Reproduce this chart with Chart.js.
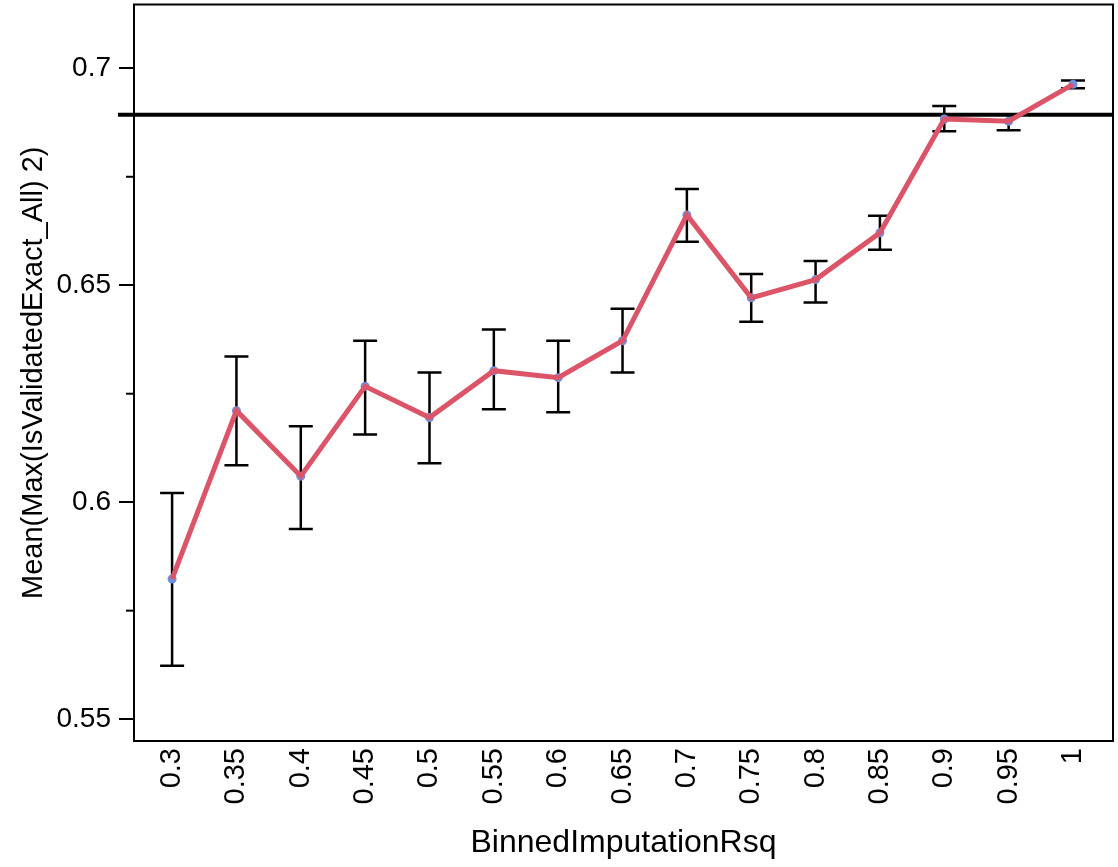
<!DOCTYPE html>
<html>
<head>
<meta charset="utf-8">
<script src="https://cdn.jsdelivr.net/npm/chart.js@4.4.1/dist/chart.umd.min.js"></script>
<style>
  html, body { margin: 0; padding: 0; background: #fff; }
  #wrap { width: 1118px; height: 867px; }
</style>
</head>
<body>
<div id="wrap"><canvas id="rsqChart" width="1118" height="867"></canvas></div>
<script>
const binValues = [0.3, 0.35, 0.4, 0.45, 0.5, 0.55, 0.6, 0.65, 0.7, 0.75, 0.8, 0.85, 0.9, 0.95, 1];
const binLabels = ['0.3', '0.35', '0.4', '0.45', '0.5', '0.55', '0.6', '0.65', '0.7', '0.75', '0.8', '0.85', '0.9', '0.95', '1'];
const meanValues = [0.5823, 0.6211, 0.6060, 0.6267, 0.6195, 0.6303, 0.6287, 0.6372, 0.6662, 0.6471, 0.6513, 0.6621, 0.6883, 0.6878, 0.6963];
const errUpper = [0.6021, 0.6336, 0.6175, 0.6372, 0.6299, 0.6398, 0.6372, 0.6446, 0.6722, 0.6526, 0.6556, 0.6660, 0.6913, 0.6894, 0.6972];
const errLower = [0.5623, 0.6085, 0.5938, 0.6156, 0.6090, 0.6214, 0.6207, 0.6299, 0.6600, 0.6416, 0.6460, 0.6582, 0.6855, 0.6857, 0.6954];
const yTickValues = [0.55, 0.575, 0.6, 0.625, 0.65, 0.675, 0.7];
const yMajorTicks = [0.55, 0.6, 0.65, 0.7];
const referenceLine = [0.6893];

const points = binValues.map((x, i) => ({ x: x, y: meanValues[i] }));

function isMajor(v) {
    return yMajorTicks.some(m => Math.abs(m - v) < 1e-6);
}

// error bars, reference line, minor ticks and the plot frame
const extras = {
    id: 'extras',
    beforeDatasetsDraw(chart) {
        const ctx = chart.ctx;
        const xs = chart.scales.x;
        const ys = chart.scales.y;
        const area = chart.chartArea;
        ctx.save();

        // error bars
        ctx.strokeStyle = '#000';
        ctx.lineWidth = 2.5;
        binValues.forEach((v, i) => {
            const px = xs.getPixelForValue(v);
            const top = ys.getPixelForValue(errUpper[i]);
            const bot = ys.getPixelForValue(errLower[i]);
            ctx.beginPath();
            ctx.moveTo(px, top); ctx.lineTo(px, bot);
            ctx.moveTo(px - 12, top); ctx.lineTo(px + 12, top);
            ctx.moveTo(px - 12, bot); ctx.lineTo(px + 12, bot);
            ctx.stroke();
        });

        // reference line
        const ry = ys.getPixelForValue(referenceLine[0]);
        ctx.lineWidth = 4;
        ctx.beginPath();
        ctx.moveTo(area.left - 16, ry);
        ctx.lineTo(area.right, ry);
        ctx.stroke();

        // minor ticks on y
        ctx.lineWidth = 2;
        yTickValues.filter(v => !isMajor(v)).forEach(v => {
            const py = ys.getPixelForValue(v);
            ctx.beginPath();
            ctx.moveTo(area.left - 8, py);
            ctx.lineTo(area.left, py);
            ctx.stroke();
        });

        // frame
        ctx.lineWidth = 2;
        ctx.strokeRect(area.left, area.top, area.right - area.left, area.bottom - area.top);
        ctx.restore();
    }
};

const ctx = document.getElementById('rsqChart').getContext('2d');
new Chart(ctx, {
    type: 'line',
    data: {
        datasets: [{
            label: 'mean',
            data: points,
            borderColor: '#dc5468',
            borderWidth: 5,
            pointRadius: 0,
            tension: 0,
            order: 1
        }, {
            label: 'points',
            data: points,
            showLine: false,
            pointRadius: 4.5,
            pointBackgroundColor: '#6e8fdc',
            pointBorderWidth: 0,
            order: 2
        }]
    },
    options: {
        responsive: false,
        animation: false,
        layout: { padding: { top: 2, right: 5, left: 0, bottom: 0 } },
        plugins: {
            legend: { display: false },
            tooltip: { enabled: false }
        },
        scales: {
            x: {
                type: 'linear',
                min: 0.2704,
                max: 1.0311,
                afterBuildTicks: scale => { scale.ticks = binValues.map(v => ({ value: v })); },
                afterFit: scale => {
                    scale.height = 126;
                    scale.paddingLeft = 0;
                    scale.paddingRight = 0;
                },
                ticks: {
                    autoSkip: false,
                    minRotation: 90,
                    maxRotation: 90,
                    padding: 7,
                    color: '#000',
                    font: { family: 'Liberation Sans', size: 29 },
                    callback: (v, i) => binLabels[i]
                },
                grid: { display: false, drawTicks: false },
                border: { display: false },
                title: {
                    display: true,
                    text: 'BinnedImputationRsq',
                    color: '#000',
                    font: { family: 'Liberation Sans', size: 32 },
                    padding: { top: 4, bottom: 5 }
                }
            },
            y: {
                min: 0.54496,
                max: 0.7147,
                afterBuildTicks: scale => { scale.ticks = yTickValues.map(v => ({ value: v })); },
                afterFit: scale => {
                    scale.width = 134;
                    scale.paddingTop = 0;
                    scale.paddingBottom = 0;
                },
                ticks: {
                    padding: 8,
                    color: '#000',
                    font: { family: 'Liberation Sans', size: 28 },
                    callback: v => isMajor(v) ? String(parseFloat(v.toFixed(3))) : ''
                },
                grid: {
                    drawOnChartArea: false,
                    tickLength: 15,
                    lineWidth: 2,
                    tickColor: c => (c.tick && isMajor(c.tick.value)) ? '#000' : 'rgba(0,0,0,0)'
                },
                border: { display: false },
                title: {
                    display: true,
                    text: 'Mean(Max(IsValidatedExact_All) 2)',
                    color: '#000',
                    font: { family: 'Liberation Sans', size: 29 },
                    padding: { top: 17, bottom: 4 }
                }
            }
        }
    },
    plugins: [extras]
});
</script>
</body>
</html>
